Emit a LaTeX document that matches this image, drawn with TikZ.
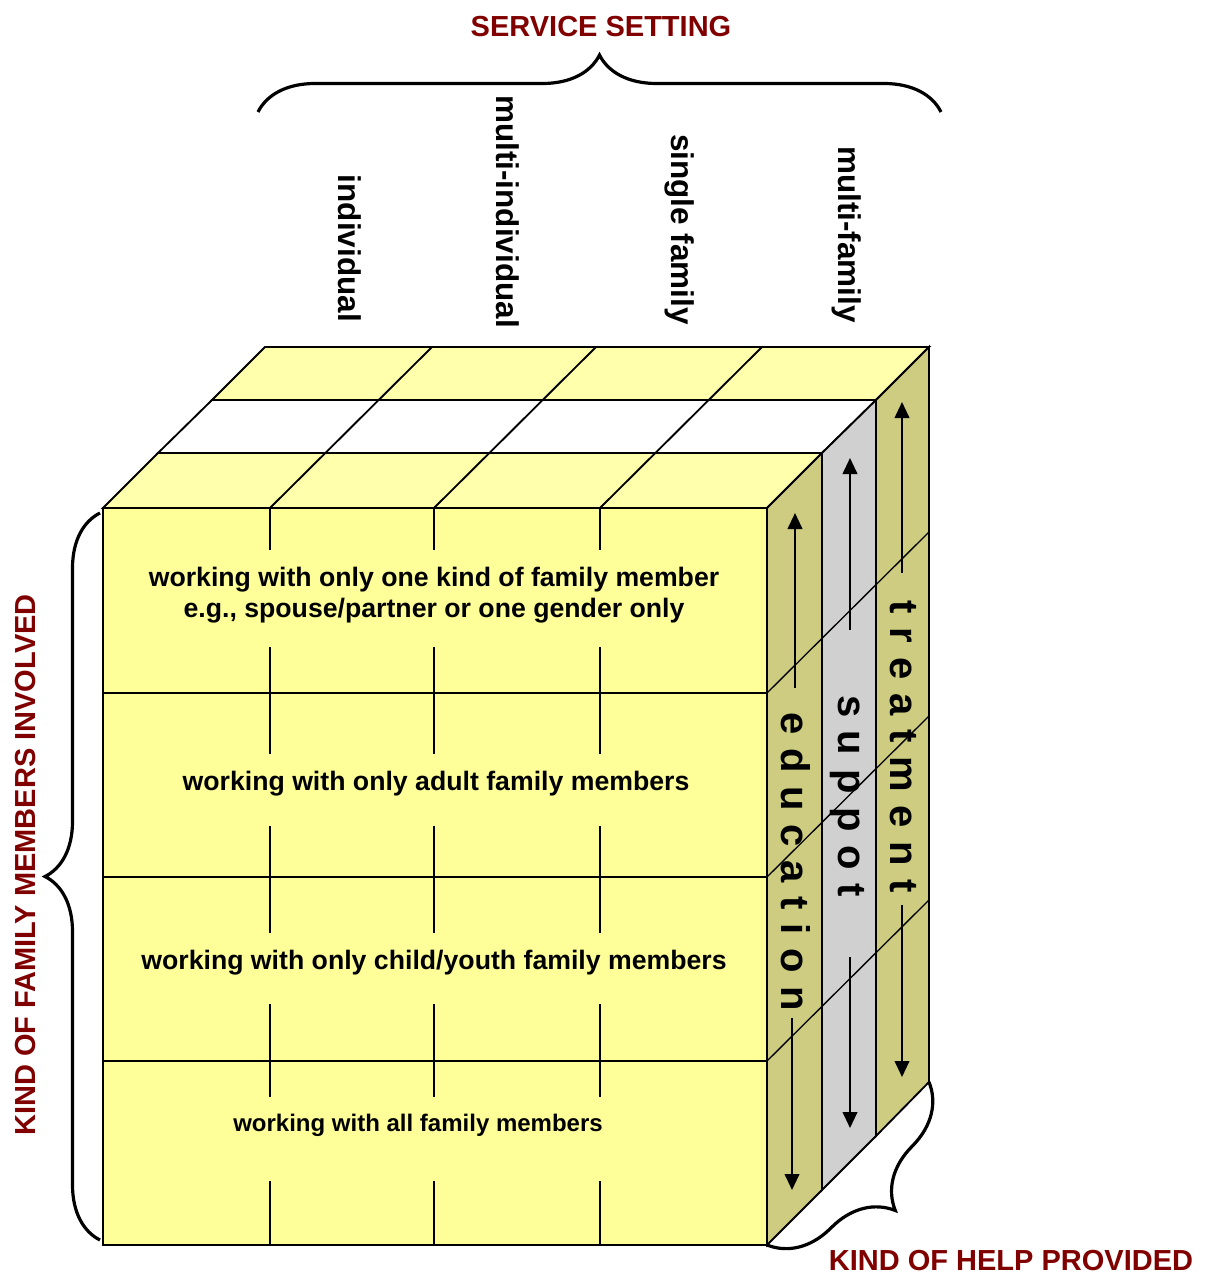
\documentclass[tikz,border=0pt]{standalone}
\usepackage{fontspec}
\setmainfont{Liberation Sans}
\usetikzlibrary{arrows.meta,decorations.pathreplacing}
\definecolor{frontY}{RGB}{255,255,153}
\definecolor{topY}{RGB}{255,255,172}
\definecolor{oliveS}{RGB}{206,204,128}
\definecolor{greyS}{RGB}{208,208,208}
\definecolor{dred}{RGB}{128,0,0}
\newlength\lsp \setlength\lsp{10.3pt}
\def\spacedtext#1{\spacedaux#1\relax}
\def\spacedaux#1#2{#1\ifx#2\relax\else\kern\lsp\expandafter\spacedaux\expandafter#2\fi}
\begin{document}
\begin{tikzpicture}[x=0.75pt,y=-0.75pt,
  edge/.style={line width=1.4pt,line join=miter},
  thinedge/.style={line width=1pt},
  arr/.style={line width=1.4pt,-{Triangle[width=11pt,length=12pt]}},
  rowtxt/.style={inner sep=0pt,anchor=base,font=\bfseries\fontsize{20pt}{23pt}\selectfont},
  hdr/.style={inner sep=0pt,rotate=-90,anchor=base east,font=\bfseries\fontsize{23.6pt}{27pt}\selectfont},
  sidetxt/.style={inner sep=0pt,rotate=-90,anchor=base,font=\bfseries\fontsize{30pt}{34pt}\selectfont},
  lbl/.style={inner sep=0pt,anchor=base,text=dred,font=\bfseries\fontsize{21.75pt}{25pt}\selectfont},
  bracestyle/.style={line width=2.4pt,decorate},
]
\useasboundingbox (0,0) rectangle (1211,1276);

% top face bands
\filldraw[edge,fill=topY] (265,347) -- (929,347) -- (876,400) -- (212,400) -- cycle;
\filldraw[edge,fill=white] (212,400) -- (876,400) -- (822,453) -- (158,453) -- cycle;
\filldraw[edge,fill=topY] (158,453) -- (822,453) -- (767,508) -- (103,508) -- cycle;
\foreach \c in {270,434,600} \draw[edge] (\c,508) -- ++(162,-161);

% side strips
\filldraw[edge,fill=oliveS] (767,508) -- (822,453) -- (822,1190) -- (767,1245) -- cycle;
\filldraw[edge,fill=greyS] (822,453) -- (876,400) -- (876,1136) -- (822,1190) -- cycle;
\filldraw[edge,fill=oliveS] (876,400) -- (929,347) -- (929,1082) -- (876,1136) -- cycle;
\foreach \r in {693,877,1061} \draw[thinedge] (767,\r) -- ++(162,-161);

% front face
\filldraw[edge,fill=frontY] (103,508) rectangle (767,1245);
\foreach \r in {693,877,1061} \draw[edge] (103,\r) -- (767,\r);
\foreach \c in {270,434,600} {
  \draw[edge] (\c,508) -- (\c,550);
  \draw[edge] (\c,647) -- (\c,754);
  \draw[edge] (\c,826) -- (\c,933);
  \draw[edge] (\c,1004) -- (\c,1097);
  \draw[edge] (\c,1181) -- (\c,1245);
}

% row texts
\node[rowtxt] (r1a) at (434,586) {working with only one kind of family member};
\node[rowtxt] (r1b) at (434,617) {e.g., spouse/partner or one gender only};
\node[rowtxt] (r2) at (436,790) {working with only adult family members};
\node[rowtxt] (r3) at (434,969) {working with only child/youth family members};
\node[rowtxt,font=\bfseries\fontsize{18pt}{21pt}\selectfont] (r4) at (418,1131) {working with all family members};

% column headers
\node[hdr] (h1) at (338,322) {individual};
\node[hdr] (h2) at (496,328) {multi-individual};
\node[hdr] (h3) at (671,325) {single family};
\node[hdr] (h4) at (838,323) {multi-family};

% side texts
\node[sidetxt] (edu) at (781,862) {\spacedtext{education}};
\node[sidetxt] (sup) at (838,796) {\spacedtext{suppot}};
\node[sidetxt] (trt) at (890,747) {\spacedtext{treatment}};

% arrows
\coordinate (eduA1) at (795,688); \coordinate (eduA2) at (795,513);
\coordinate (eduB1) at (792,1018); \coordinate (eduB2) at (792,1190);
\coordinate (supA1) at (850,630); \coordinate (supA2) at (850,458);
\coordinate (supB1) at (850,957); \coordinate (supB2) at (850,1128);
\coordinate (trtA1) at (902,573); \coordinate (trtA2) at (902,402);
\coordinate (trtB1) at (902,905); \coordinate (trtB2) at (902,1077);
\draw[arr] (eduA1) -- (eduA2);
\draw[arr] (eduB1) -- (eduB2);
\draw[arr] (supA1) -- (supA2);
\draw[arr] (supB1) -- (supB2);
\draw[arr] (trtA1) -- (trtA2);
\draw[arr] (trtB1) -- (trtB2);

% braces
\coordinate (tb1) at (258,112); \coordinate (tb2) at (941,112);
\coordinate (lb1) at (100,1240); \coordinate (lb2) at (100,513);
\coordinate (bb1) at (929,1082); \coordinate (bb2) at (767,1245);
\draw[bracestyle,decoration={brace,amplitude=42.75pt}] (tb1) -- (tb2);
\draw[bracestyle,decoration={brace,amplitude=41.25pt}] (lb1) -- (lb2);
\draw[bracestyle,decoration={brace,amplitude=50pt}] (bb1) -- (bb2);

% labels
\node[lbl] (ss) at (601,37) {SERVICE SETTING};
\node[lbl] (hp) at (1011,1270) {KIND OF HELP PROVIDED};
\node[lbl,rotate=90] (fm) at (35,865) {KIND OF FAMILY MEMBERS INVOLVED};
\end{tikzpicture}
\end{document}
